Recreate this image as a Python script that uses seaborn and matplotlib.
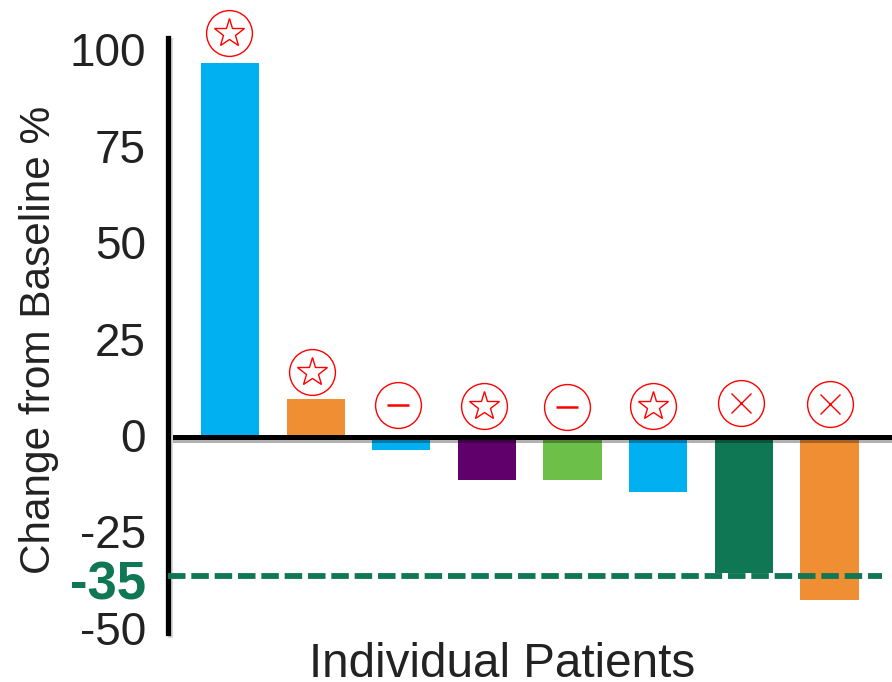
import matplotlib
matplotlib.use("Agg")
import matplotlib.pyplot as plt
import matplotlib.patheffects as pe
from matplotlib.transforms import ScaledTranslation
import seaborn as sns
import pandas as pd

patients = ["P1", "P2", "P3", "P4", "P5", "P6", "P7", "P8"]
change = [97, 9.8, -3.4, -11.2, -11.2, -14.2, -35.2, -42.2]
colors = ["#00B0F0", "#EF8E33", "#00B0F0", "#60006A", "#6CC04A", "#00B0F0", "#0F7754", "#EF8E33"]
response = ["star", "star", "minus", "star", "minus", "star", "x", "x"]
response_y = [104.7, 16.8, 8.3, 8.0, 7.8, 8.0, 8.8, 8.5]
response_dx = [-0.01, -0.04, -0.04, -0.03, -0.06, -0.06, -0.03, 0.01]
yticks = [100, 75, 50, 25, 0, -25, -50]
cutoff = -36
cutoff_label = "-35"

plt.rcParams['font.family'] = ['Liberation Sans', 'DejaVu Sans']

df = pd.DataFrame({"patient": patients, "change": change})

fig = plt.figure(figsize=(8.92, 6.82), dpi=100)
ax = fig.add_axes([168/892, 1-633/682, 724/892, 595/682])

sns.barplot(data=df, x="patient", y="change", hue="patient", palette=colors,
            width=0.68, legend=False, saturation=1, ax=ax)

ax.set_xlim(-0.724, 7.73)
ax.set_ylim(-50.8, 103.4)

sns.despine(ax=ax, bottom=True, right=True, top=True)
ax.spines['left'].set_linewidth(3.8)
ax.spines['left'].set_color("black")
ax.spines['left'].set_path_effects([pe.SimpleLineShadow(offset=(1.5, -1.5), alpha=0.15), pe.Normal()])

# zero line with the soft shadow under it
ax.axhline(0, xmin=0.01, xmax=1, color="black", lw=3.6, zorder=4,
           path_effects=[pe.SimpleLineShadow(offset=(0, -2.5), alpha=0.3), pe.Normal()])

ax.axhline(cutoff, xmin=0, xmax=0.986, color="#0F7754", lw=4.2,
           dashes=(3, 1), dash_capstyle="butt", zorder=5)

ax.set_xticks([])
ax.set_yticks(yticks + [cutoff])
ax.set_yticklabels([str(t) for t in yticks] + [cutoff_label])
ax.tick_params(axis="y", length=0, pad=16, labelsize=33, labelcolor="#222222")

# labels sit slightly above their ticks, the -35 label is bold green and below the line
labels = ax.get_yticklabels()
for lab in labels[:-1]:
    lab.set_transform(lab.get_transform() + ScaledTranslation(0, 2/100, fig.dpi_scale_trans))
lab = labels[-1]
lab.set_color("#0F7754")
lab.set_fontweight("bold")
lab.set_fontsize(38)
lab.set_transform(lab.get_transform() + ScaledTranslation(0, -4/100, fig.dpi_scale_trans))

ax.set_ylabel("Change from Baseline %", fontsize=30.5, color="#222222")
ax.yaxis.set_label_coords(-109/724, (633-340)/595)
ax.set_xlabel("Individual Patients", fontsize=34.3, color="#222222")
ax.xaxis.set_label_coords(334/724, -9/595)

red = "#FF0000"
inner = {"star": "*", "minus": "_", "x": "x"}
inner_size = {"star": 22, "minus": 16, "x": 15}
for i, kind in enumerate(response):
    x = i + response_dx[i]
    ax.plot(x, response_y[i], marker="o", ms=33, mfc="none", mec=red, mew=1.0,
            clip_on=False, zorder=6)
    ax.plot(x, response_y[i], marker=inner[kind], ms=inner_size[kind], mfc="none", mec=red,
            mew=1.8 if kind == "minus" else 1.0, clip_on=False, zorder=6)

plt.savefig("out.png", dpi=100)
